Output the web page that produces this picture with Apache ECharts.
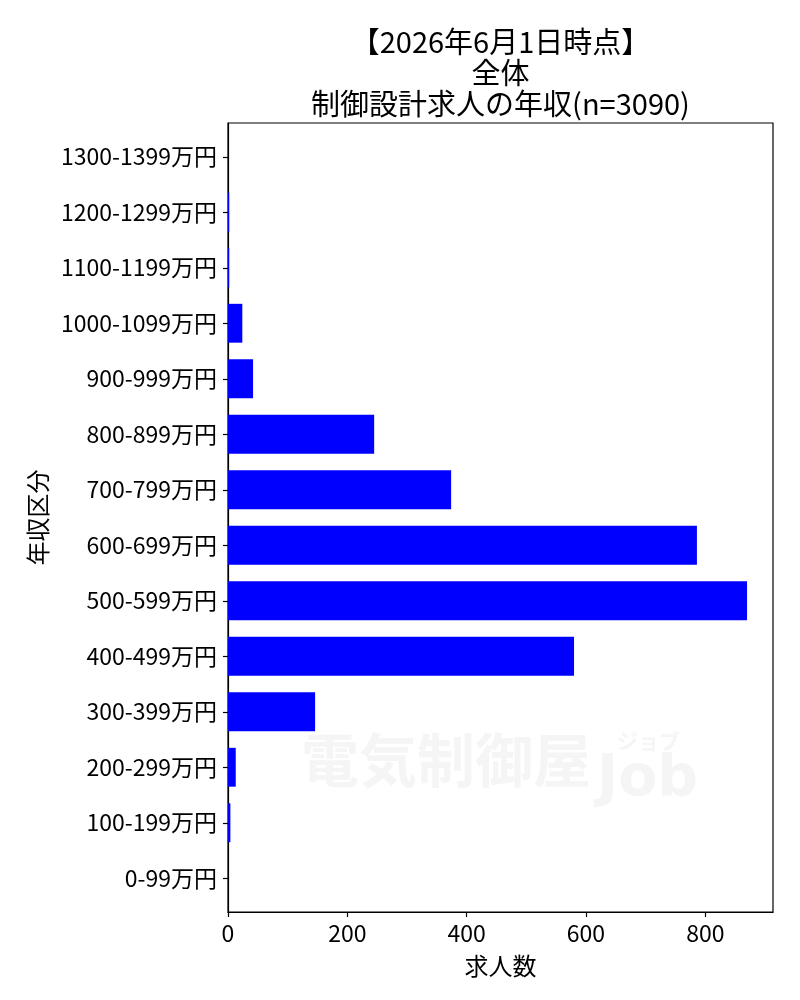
<!DOCTYPE html>
<html>
<head>
<meta charset="utf-8">
<script src="https://cdn.jsdelivr.net/npm/echarts@6/dist/echarts.min.js"></script>
<style>
html,body{margin:0;padding:0;background:#fff;}
#chart{width:800px;height:1000px;}
</style>
</head>
<body>
<div id="chart"></div>
<script>
const categories = ['0-99万円','100-199万円','200-299万円','300-399万円','400-499万円','500-599万円','600-699万円','700-799万円','800-899万円','900-999万円','1000-1099万円','1100-1199万円','1200-1299万円','1300-1399万円'];
const counts = [0, 4, 13, 146, 580, 870, 786, 374, 245, 42, 24, 2, 2, 0];
const xTicks = [0, 200, 400, 600, 800];
const titleLines = ['【2026年6月1日時点】', '全体', '制御設計求人の年収(n=3090)'];
const xName = '求人数';
const yName = '年収区分';

const FONT = '"Noto Sans CJK JP", sans-serif';
const xMax = Math.max(...counts) * 1.05;
const WM = '#f5f5f5';

const chart = echarts.init(document.getElementById('chart'), null, {renderer: 'canvas'});
chart.setOption({
  animation: false,
  backgroundColor: '#fff',
  title: {
    text: titleLines.join('\n'),
    left: 500.5,
    top: 26,
    padding: 0,
    textAlign: 'center',
    textStyle: {fontFamily: FONT, fontSize: 29, fontWeight: 'normal', color: '#000', lineHeight: 31}
  },
  graphic: [
    {type: 'text', left: 301, top: 731, silent: true, z: -10,
     style: {text: '電気制御屋', fontFamily: FONT, fontSize: 58, fontWeight: 'bold', fill: WM}},
    {type: 'text', left: 617, top: 731, silent: true, z: -10,
     style: {text: 'ジョブ', fontFamily: FONT, fontSize: 21, fontWeight: 'bold', fill: WM}},
    {type: 'text', left: 597, top: 752, silent: true, z: -10,
     style: {text: 'Job', fontFamily: 'DejaVu Sans', fontSize: 57, fontWeight: 'bold', fill: WM}}
  ],
  grid: [
    {left: 228, right: 27, top: 123, bottom: 88, show: true, borderColor: '#000', borderWidth: 1.2, backgroundColor: 'transparent'},
    {left: 228, right: 27, top: 129, bottom: 94}
  ],
  xAxis: [
    {gridIndex: 0, type: 'value', min: 0, max: xMax, interval: 200,
     axisLine: {show: true, lineStyle: {color: '#000', width: 1.2}},
     axisTick: {show: true, length: 5, lineStyle: {color: '#000', width: 1.2}},
     splitLine: {show: false},
     axisLabel: {margin: 10, fontFamily: FONT, fontSize: 23, color: '#000',
       formatter: v => xTicks.includes(v) ? String(v) : '', showMaxLabel: false},
     name: xName, nameLocation: 'middle', nameGap: 42,
     nameTextStyle: {fontFamily: FONT, fontSize: 24, color: '#000'}},
    {gridIndex: 1, type: 'value', min: 0, max: xMax, show: false}
  ],
  yAxis: [
    {gridIndex: 0, type: 'value', min: 0, max: 1,
     axisLine: {show: true, lineStyle: {color: '#000', width: 1.2}},
     axisTick: {show: false}, axisLabel: {show: false}, splitLine: {show: false},
     name: yName, nameLocation: 'middle', nameGap: 178, nameRotate: 90,
     nameTextStyle: {fontFamily: FONT, fontSize: 24, color: '#000'}},
    {gridIndex: 1, type: 'category', data: categories,
     axisLine: {show: false},
     axisTick: {show: true, alignWithLabel: true, length: 5, lineStyle: {color: '#000', width: 1.2}},
     axisLabel: {margin: 11, fontFamily: FONT, fontSize: 23, color: '#000'},
     splitLine: {show: false}}
  ],
  series: [
    {type: 'bar', xAxisIndex: 1, yAxisIndex: 1, data: counts,
     barCategoryGap: '30%', itemStyle: {color: '#0000ff'}, z: 5}
  ]
});
</script>
</body>
</html>
